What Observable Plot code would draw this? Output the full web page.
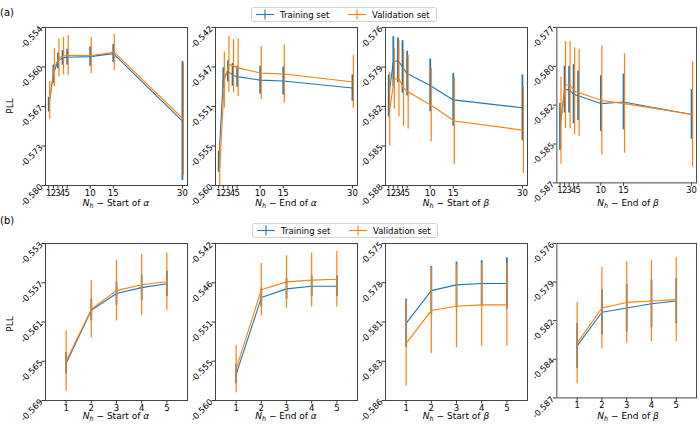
<!DOCTYPE html>
<html><head><meta charset="utf-8">
<script src="https://cdn.jsdelivr.net/npm/d3@7"></script>
<script src="https://cdn.jsdelivr.net/npm/@observablehq/plot@0.6"></script>
<style>
body{margin:0;background:#fff;font-family:"DejaVu Sans",sans-serif;color:#000}
#root{position:relative;width:700px;height:425px;overflow:hidden;background:#fff}
.abs{position:absolute}
.panel svg{overflow:visible}
.xl{position:absolute;width:160px;text-align:center;font-size:9px;line-height:9px;white-space:nowrap}
.xl sub{font-size:6.5px;vertical-align:-2px;line-height:0}
.tag{position:absolute;font-size:10px}
.ylab{position:absolute;font-size:9px;transform:rotate(-90deg);transform-origin:center}
.legend{position:absolute;border:1px solid #d0d0d0;border-radius:3px;background:#fff;font-size:8.5px;box-sizing:border-box}
.legend span{position:absolute;top:1.5px;line-height:11px;white-space:nowrap}
.legend svg{position:absolute;top:0}
</style></head><body><div id="root"></div>
<script>
// ---- data ----
const xTop = [1, 2, 3, 4, 5, 10, 15, 30];
const xBottom = [1, 2, 3, 4, 5];
const xTopTickLabels = ["1", "2", "3", "4", "5", "10", "15", "30"];
const xBottomTickLabels = ["1", "2", "3", "4", "5"];
const seriesNames = ["Training set", "Validation set"];
const panelTitles = ["Start of α", "End of α", "Start of β", "End of β"];

// (a) row
const aStartAlphaTrain = [-0.5667, -0.5617, -0.5595, -0.5590, -0.5589, -0.5588, -0.5583, -0.5694];
const aStartAlphaTrainErr = [0.0012, 0.0015, 0.0013, 0.0012, 0.0013, 0.0016, 0.0015, 0.0098];
const aStartAlphaVal = [-0.5660, -0.5606, -0.5590, -0.5587, -0.5586, -0.5586, -0.5581, -0.5691];
const aStartAlphaValErr = [0.0031, 0.0031, 0.0031, 0.0031, 0.0033, 0.0030, 0.0030, 0.0092];
const aStartAlphaTicks = ["-0.554", "-0.560", "-0.567", "-0.573", "-0.580"];

const aEndAlphaTrain = [-0.5573, -0.5478, -0.5470, -0.5474, -0.5476, -0.5480, -0.5481, -0.5489];
const aEndAlphaTrainErr = [0.0012, 0.0012, 0.0012, 0.0013, 0.0012, 0.0016, 0.0016, 0.0015];
const aEndAlphaVal = [-0.5580, -0.5480, -0.5462, -0.5464, -0.5466, -0.5472, -0.5473, -0.5482];
const aEndAlphaValErr = [0.0026, 0.0032, 0.0032, 0.0030, 0.0033, 0.0030, 0.0033, 0.0030];
const aEndAlphaTicks = ["-0.542", "-0.547", "-0.551", "-0.555", "-0.560"];

const aStartBetaTrain = [-0.5812, -0.5786, -0.5785, -0.5790, -0.5795, -0.5804, -0.5815, -0.5821];
const aStartBetaTrainErr = [0.0016, 0.0019, 0.0017, 0.0020, 0.0017, 0.0020, 0.0020, 0.0025];
const aStartBetaVal = [-0.5822, -0.5799, -0.5799, -0.5806, -0.5809, -0.5819, -0.5831, -0.5838];
const aStartBetaValErr = [0.0028, 0.0023, 0.0029, 0.0029, 0.0028, 0.0028, 0.0033, 0.0033];
const aStartBetaTicks = ["-0.576", "-0.579", "-0.582", "-0.585", "-0.588"];

const aEndBetaTrain = [-0.5834, -0.5810, -0.5810, -0.5813, -0.5814, -0.5819, -0.5818, -0.5826];
const aEndBetaTrainErr = [0.0015, 0.0015, 0.0015, 0.0019, 0.0016, 0.0018, 0.0018, 0.0016];
const aEndBetaVal = [-0.5830, -0.5807, -0.5807, -0.5811, -0.5812, -0.5817, -0.5819, -0.5826];
const aEndBetaValErr = [0.0028, 0.0028, 0.0028, 0.0028, 0.0028, 0.0035, 0.0032, 0.0034];
const aEndBetaTicks = ["-0.577", "-0.580", "-0.582", "-0.585", "-0.587"];

// (b) row
const bStartAlphaTrain = [-0.5652, -0.5598, -0.5581, -0.5575, -0.5571];
const bStartAlphaTrainErr = [0.0011, 0.0011, 0.0012, 0.0013, 0.0013];
const bStartAlphaVal = [-0.5650, -0.5597, -0.5578, -0.5572, -0.5569];
const bStartAlphaValErr = [0.0031, 0.0029, 0.0031, 0.0031, 0.0029];
const bStartAlphaTicks = ["-0.553", "-0.557", "-0.561", "-0.565", "-0.569"];

const bEndAlphaTrain = [-0.5570, -0.5482, -0.5472, -0.5469, -0.5469];
const bEndAlphaTrainErr = [0.0011, 0.0011, 0.0012, 0.0012, 0.0012];
const bEndAlphaVal = [-0.5564, -0.5473, -0.5464, -0.5462, -0.5461];
const bEndAlphaValErr = [0.0027, 0.0030, 0.0030, 0.0031, 0.0032];
const bEndAlphaTicks = ["-0.542", "-0.546", "-0.551", "-0.555", "-0.560"];

const bStartBetaTrain = [-0.5806, -0.5783, -0.5779, -0.5778, -0.5778];
const bStartBetaTrainErr = [0.0017, 0.0017, 0.0016, 0.0016, 0.0018];
const bStartBetaVal = [-0.5820, -0.5797, -0.5794, -0.5793, -0.5793];
const bStartBetaValErr = [0.0030, 0.0030, 0.0029, 0.0029, 0.0029];
const bStartBetaTicks = ["-0.575", "-0.578", "-0.581", "-0.583", "-0.586"];

const bEndBetaTrain = [-0.5833, -0.5809, -0.5806, -0.5803, -0.5801];
const bEndBetaTrainErr = [0.0016, 0.0016, 0.0017, 0.0017, 0.0016];
const bEndBetaVal = [-0.5831, -0.5806, -0.5802, -0.5801, -0.5800];
const bEndBetaValErr = [0.0029, 0.0029, 0.0029, 0.0029, 0.0030];
const bEndBetaTicks = ["-0.576", "-0.579", "-0.582", "-0.584", "-0.587"];

// ---- layout ----
const BLUE = "#1f77b4", ORANGE = "#ff7f0e";
const colLeft = [45, 215, 385, 557];
const colWidth = 142;
const rowTop = [27, 243];
const rowHeight = [158, 157];
const labelGap = [14, 12];
const xTickPad = [1, 0.5];
const root = document.getElementById("root");

function rows(xs, m, e, set) {
  return xs.map((x, i) => ({x, y: m[i], lo: m[i] - e[i], hi: m[i] + e[i], set}));
}

function panel(row, col, xs, xLabels, xDomain, train, trainErr, val, valErr, yLabels, dxVal) {
  const mL = 40, mR = 4, mT = 4, mB = 24;
  const yHi = +yLabels[0], yLo = +yLabels[yLabels.length - 1];
  const n = yLabels.length - 1;
  const yTicks = yLabels.map((_, i) => yHi - (yHi - yLo) * i / n);
  const yFmt = d => yLabels[Math.round((yHi - d) / (yHi - yLo) * n)];
  const xFmt = d => xLabels[xs.indexOf(d)];
  const tr = rows(xs, train, trainErr, seriesNames[0]);
  const va = rows(xs, val, valErr, seriesNames[1]);
  const p = Plot.plot({
    width: colWidth + mL + mR,
    height: rowHeight[row] + mT + mB,
    marginLeft: mL, marginRight: mR, marginTop: mT, marginBottom: mB,
    style: {fontFamily: "DejaVu Sans", fontSize: "8.5px", background: "transparent", color: "#000", overflow: "visible"},
    x: {domain: xDomain},
    y: {domain: [yLo, yHi]},
    marks: [
      Plot.axisX({ticks: xs, tickFormat: xFmt, tickSize: 3.5, tickPadding: xTickPad[row], label: null, stroke: "#333"}),
      Plot.axisY({ticks: yTicks, tickFormat: yFmt, tickRotate: -45, tickSize: 3.5, tickPadding: 0.5, label: null, stroke: "#333"}),
      Plot.ruleX(tr, {x: "x", y1: "lo", y2: "hi", stroke: BLUE, strokeWidth: 1.8, clip: true}),
      Plot.line(tr, {x: "x", y: "y", stroke: BLUE, strokeWidth: 1.1, clip: true}),
      Plot.ruleX(va, {x: "x", y1: "lo", y2: "hi", stroke: ORANGE, strokeWidth: 1.2, dx: dxVal, clip: true}),
      Plot.line(va, {x: "x", y: "y", stroke: ORANGE, strokeWidth: 1.1, dx: dxVal, clip: true}),
      Plot.frame({stroke: "#444", strokeWidth: 1})
    ]
  });
  const d = document.createElement("div");
  d.className = "abs panel";
  d.style.left = (colLeft[col] - mL) + "px";
  d.style.top = (rowTop[row] - mT) + "px";
  d.appendChild(p);
  root.appendChild(d);
  // x label
  const xl = document.createElement("div");
  xl.className = "xl";
  xl.style.left = (colLeft[col] + colWidth / 2 - 80) + "px";
  xl.style.top = (rowTop[row] + rowHeight[row] + labelGap[row]) + "px";
  const t = panelTitles[col];
  const greek = t.slice(-1);
  xl.innerHTML = `<i>N</i><sub><i>h</i></sub> − ${t.slice(0, -1)}<i>${greek}</i>`;
  root.appendChild(xl);
}

const topDomain = [0.3, 31.1];
const botDomain = [0.18, 5.82];
panel(0, 0, xTop, xTopTickLabels, topDomain, aStartAlphaTrain, aStartAlphaTrainErr, aStartAlphaVal, aStartAlphaValErr, aStartAlphaTicks, 1);
panel(0, 1, xTop, xTopTickLabels, topDomain, aEndAlphaTrain, aEndAlphaTrainErr, aEndAlphaVal, aEndAlphaValErr, aEndAlphaTicks, 1);
panel(0, 2, xTop, xTopTickLabels, topDomain, aStartBetaTrain, aStartBetaTrainErr, aStartBetaVal, aStartBetaValErr, aStartBetaTicks, 1);
panel(0, 3, xTop, xTopTickLabels, topDomain, aEndBetaTrain, aEndBetaTrainErr, aEndBetaVal, aEndBetaValErr, aEndBetaTicks, 1);
panel(1, 0, xBottom, xBottomTickLabels, botDomain, bStartAlphaTrain, bStartAlphaTrainErr, bStartAlphaVal, bStartAlphaValErr, bStartAlphaTicks, 0);
panel(1, 1, xBottom, xBottomTickLabels, botDomain, bEndAlphaTrain, bEndAlphaTrainErr, bEndAlphaVal, bEndAlphaValErr, bEndAlphaTicks, 0);
panel(1, 2, xBottom, xBottomTickLabels, botDomain, bStartBetaTrain, bStartBetaTrainErr, bStartBetaVal, bStartBetaValErr, bStartBetaTicks, 0);
panel(1, 3, xBottom, xBottomTickLabels, botDomain, bEndBetaTrain, bEndBetaTrainErr, bEndBetaVal, bEndBetaValErr, bEndBetaTicks, 0);

// tags, y labels
function addDiv(cls, text, left, top) {
  const d = document.createElement("div");
  d.className = cls; d.textContent = text;
  d.style.left = left + "px"; d.style.top = top + "px";
  root.appendChild(d);
  return d;
}
addDiv("tag", "(a)", 0, 7);
addDiv("tag", "(b)", 0, 215);
addDiv("ylab", "PLL", 2, 101);
addDiv("ylab", "PLL", 2, 319);

// legends
function legend(left, top) {
  const L = document.createElement("div");
  L.className = "legend";
  L.style.left = left + "px"; L.style.top = top + "px";
  L.style.width = "186px"; L.style.height = "15px";
  const handle = (x, c) => `<svg style="left:${x}px" width="20" height="13"><line x1="1" x2="19" y1="6.5" y2="6.5" stroke="${c}" stroke-width="1.1"/><line x1="10" x2="10" y1="1.5" y2="11.5" stroke="${c}" stroke-width="1.1"/></svg>`;
  L.innerHTML = handle(3, BLUE) + `<span style="left:28px">${seriesNames[0]}</span>` +
                handle(95, ORANGE) + `<span style="left:120px">${seriesNames[1]}</span>`;
  root.appendChild(L);
}
legend(251, 7);
legend(252, 223);
</script>
</body></html>
